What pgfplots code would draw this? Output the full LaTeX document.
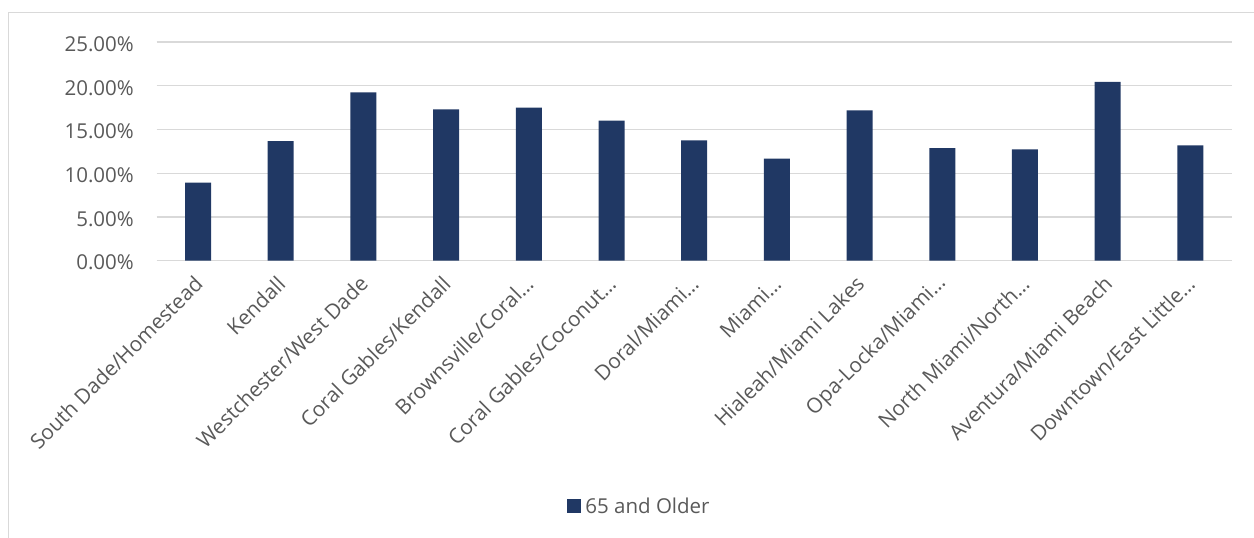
\documentclass[border=0pt]{standalone}
\usepackage{fontspec}
\setmainfont{Open Sans}
\usepackage{pgfplots}
\pgfplotsset{compat=1.18}
\definecolor{barc}{HTML}{203864}
\definecolor{gridc}{HTML}{D9D9D9}
\definecolor{txt}{HTML}{595959}
\begin{document}
\begin{tikzpicture}[x=1pt,y=1pt]
\useasboundingbox (0,0) rectangle (1254,538);
\draw[gridc, line width=1.3pt] (8.3,-5) -- (8.3,525.3) -- (1260,525.3);
\begin{axis}[
  at={(156.7pt,277.3pt)}, anchor=south west,
  scale only axis, width=1075pt, height=218.7pt,
  ybar, bar width=26pt,
  xmin=-0.5, xmax=12.5, ymin=0, ymax=25,
  axis line style={draw=none},
  major tick length=0pt,
  ymajorgrids,
  grid style={gridc, line width=1.2pt},
  ytick={0,5,10,15,20,25},
  yticklabels={0.00\%,5.00\%,10.00\%,15.00\%,20.00\%,25.00\%},
  xtick={0,1,2,3,4,5,6,7,8,9,10,11,12},
  xticklabels={South Dade/Homestead,Kendall,Westchester/West Dade,Coral Gables/Kendall,Brownsville/Coral…,Coral Gables/Coconut…,Doral/Miami…,Miami…,Hialeah/Miami Lakes,Opa-Locka/Miami…,North Miami/North…,Aventura/Miami Beach,Downtown/East Little…},
  tick label style={text=txt},
  yticklabel style={font=\fontsize{20.5}{24}\selectfont, anchor=east, inner sep=0pt, xshift=-22.7pt, yshift=-2pt},
  xticklabel style={font=\fontsize{20.8}{24}\selectfont, xshift=3pt, yshift=-17pt, rotate=45, anchor=east},
  legend style={at={(0.4491,-1.1216)}, anchor=center, draw=none, fill=none,
    font=\fontsize{20.5}{24}\selectfont, text=txt, inner sep=0pt},
  legend image code/.code={\fill[barc] (0pt,-7pt) rectangle (14pt,7pt); \path (16pt,0pt);},
]
\addplot[fill=barc, draw=none] table[x=x, y=y] {
x y
0 8.92
1 13.68
2 19.25
3 17.31
4 17.49
5 16.00
6 13.76
7 11.66
8 17.19
9 12.88
10 12.73
11 20.43
12 13.19
};
\addlegendentry{65 and Older}
\end{axis}
\end{tikzpicture}
\end{document}
